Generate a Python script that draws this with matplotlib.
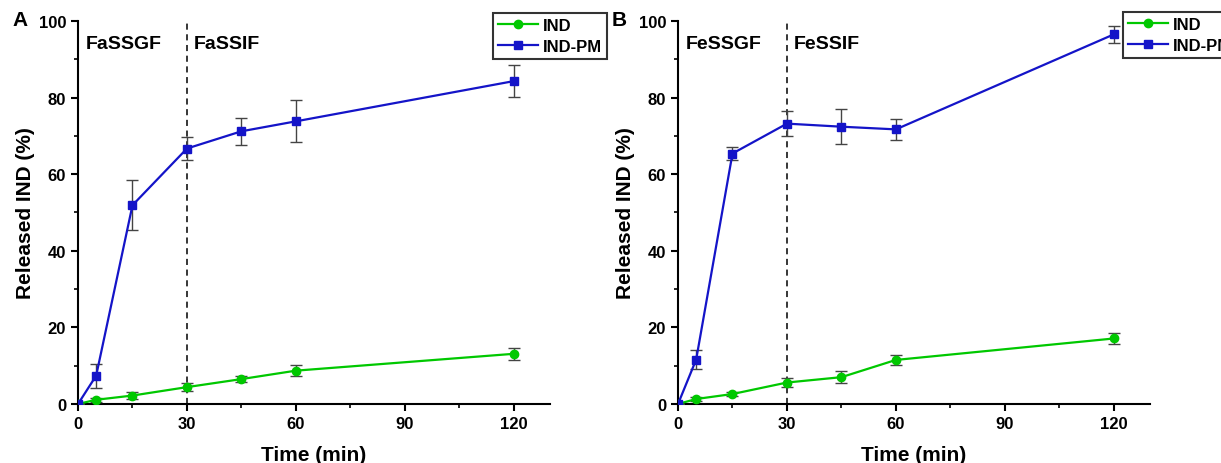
import numpy as np
import matplotlib.pyplot as plt
from matplotlib.lines import Line2D

plt.rcParams['font.family'] = ['Liberation Sans', 'DejaVu Sans']
plt.rcParams['font.weight'] = 'bold'

time = [0, 5, 15, 30, 45, 60, 120]

# panel A (fasted)
indA = [0, 1.1, 2.2, 4.4, 6.5, 8.7, 13.1]
indA_err = [0, 0.5, 0.8, 1.1, 0.8, 1.5, 1.5]
pmA = [0, 7.4, 51.9, 66.7, 71.2, 73.8, 84.3]
pmA_err = [0, 3.1, 6.5, 2.9, 3.6, 5.5, 4.1]

# panel B (fed)
indB = [0, 1.3, 2.6, 5.6, 7.0, 11.5, 17.1]
indB_err = [0, 0.4, 0.6, 1.1, 1.6, 1.2, 1.4]
pmB = [0, 11.6, 65.4, 73.2, 72.4, 71.7, 96.5]
pmB_err = [0, 2.5, 1.8, 3.3, 4.5, 2.7, 2.3]

panels = [
    ('A', 'FaSSGF', 'FaSSIF', indA, indA_err, pmA, pmA_err, 0.0639, (493, 14)),
    ('B', 'FeSSGF', 'FeSSIF', indB, indB_err, pmB, pmB_err, 0.5553, (1123, 13)),
]

green = '#00C800'
blue = '#1414C8'

fig = plt.figure(figsize=(12.21, 4.64), dpi=100)
W, H = 1221, 464

for lab, s1, s2, ind, ind_e, pm, pm_e, left, legpos in panels:
    ax = fig.add_axes([left, 0.1272, 0.3866, 0.8254])
    ax.axvline(30, color='black', ls=(0, (4, 3)), lw=1.1, zorder=1)
    ax.errorbar(time, ind, yerr=ind_e, color=green, marker='o', ms=6, lw=1.6,
                ecolor='#444444', elinewidth=1, capsize=4, capthick=1, zorder=3)
    ax.errorbar(time, pm, yerr=pm_e, color=blue, marker='s', ms=6, lw=1.6,
                ecolor='#444444', elinewidth=1, capsize=4, capthick=1, zorder=3)
    ax.set_xlim(0, 130)
    ax.set_ylim(0, 100)
    ax.set_xticks([0, 30, 60, 90, 120])
    ax.set_xticks([15, 45, 75, 105], minor=True)
    ax.set_yticks([0, 20, 40, 60, 80, 100])
    ax.set_yticks([10, 30, 50, 70, 90], minor=True)
    ax.spines['top'].set_visible(False)
    ax.spines['right'].set_visible(False)
    for sp in ['left', 'bottom']:
        ax.spines[sp].set_linewidth(1.5)
    ax.tick_params(which='major', direction='out', length=5, width=1.5, labelsize=12)
    ax.tick_params(which='minor', direction='out', length=3, width=1.2)
    for t in ax.get_xticklabels() + ax.get_yticklabels():
        t.set_fontweight('bold')
    ax.set_xlabel('Time (min)', fontsize=15, fontweight='bold', labelpad=10)
    ax.set_ylabel('Released IND (%)', fontsize=15, fontweight='bold', labelpad=3)
    ax.text(2, 94, s1, fontsize=14, fontweight='bold', va='center')
    ax.text(32, 94, s2, fontsize=14, fontweight='bold', va='center')
    fig.text(left - 0.054, 0.955, lab, fontsize=15, fontweight='bold', va='center')

    handles = [Line2D([], [], color=green, marker='o', ms=6, lw=1.6),
               Line2D([], [], color=blue, marker='s', ms=6, lw=1.6)]
    leg = ax.legend(handles, ['IND', 'IND-PM'], loc='upper left',
                    bbox_to_anchor=(legpos[0] / W, 1 - legpos[1] / H),
                    bbox_transform=fig.transFigure, frameon=True, fancybox=False,
                    edgecolor='black', fontsize=12, handlelength=2.4,
                    borderpad=0.3, labelspacing=0.35, handletextpad=0.3,
                    borderaxespad=0)
    leg.get_frame().set_linewidth(1.5)
    for t in leg.get_texts():
        t.set_fontweight('bold')

plt.savefig('out.png', dpi=100)
